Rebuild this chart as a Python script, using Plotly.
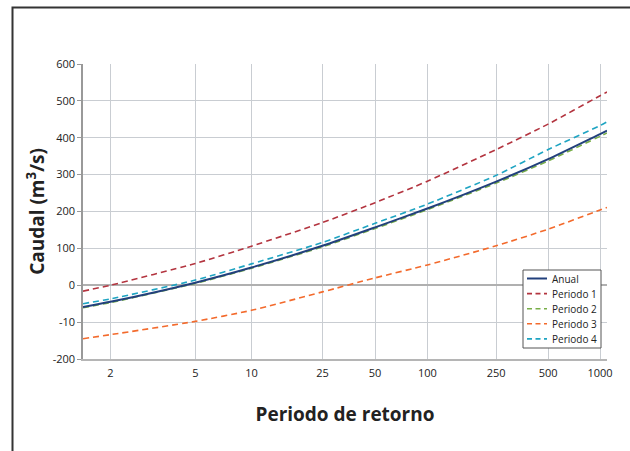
import numpy as np
import plotly.graph_objects as go

# Return periods (years) at which the quantiles are read
return_periods = [1.582, 2, 5, 10, 25, 50, 100, 250, 500, 1000, 1097]

# Discharge quantiles (m3/s)
anual    = [-59, -45, 7, 48, 107, 157, 208, 281, 342, 410, 419]
periodo1 = [-16, 0, 59, 106, 170, 224, 282, 368, 437, 514, 524]
periodo2 = [-61, -47, 5, 46, 104, 154, 205, 277, 337, 404, 413]
periodo3 = [-145, -134, -98, -68, -18, 20, 55, 107, 152, 204, 211]
periodo4 = [-50, -37, 14, 58, 116, 168, 220, 298, 368, 433, 443]

# Axis ticks
x_ticks = [2, 5, 10, 25, 50, 100, 250, 500, 1000]
y_tick_vals = [600, 500, 400, 300, 200, 100, 0, -100, -200]
y_tick_text = ["600", "500", "400", "300", "200", "100", "0", "-10", "-200"]


def gumbel(T):
    """Gumbel reduced variate for a return period T."""
    T = np.asarray(T, dtype=float)
    return -np.log(-np.log(1.0 - 1.0 / T))


u = gumbel(return_periods)

DASH = "6px,4px"
series = [
    ("Anual", anual, "#22407c", "solid", 2.0),
    ("Periodo 1", periodo1, "#b3343f", DASH, 1.6),
    ("Periodo 2", periodo2, "#78ae48", DASH, 1.6),
    ("Periodo 3", periodo3, "#f36a2c", DASH, 1.6),
    ("Periodo 4", periodo4, "#1ea4c2", DASH, 1.6),
]

fig = go.Figure()
# draw order: green under the solid line
for i in [2, 0, 1, 3, 4]:
    name, vals, color, dash, w = series[i]
    fig.add_trace(go.Scatter(
        x=u, y=vals, name=name, mode="lines", showlegend=False,
        line=dict(color=color, dash=dash, width=w,
                  shape="spline", smoothing=0.6),
    ))

font_family = "Open Sans, Noto Sans, sans-serif"

W, H = 630, 451
ML, MR, MT, MB = 83, 23, 64, 92
PW, PH = W - ML - MR, H - MT - MB


def px_x(px):
    return (px - ML) / PW


def px_y(py):
    return (H - MB - py) / PH


fig.update_layout(
    width=W, height=H,
    margin=dict(l=ML, r=MR, t=MT, b=MB),
    paper_bgcolor="white", plot_bgcolor="white",
    font=dict(family=font_family, size=11, color="#222"),
    showlegend=False,
    xaxis=dict(
        range=[0, 7],
        tickvals=list(gumbel(x_ticks)),
        ticktext=[str(t) for t in x_ticks],
        showgrid=True, gridcolor="#c9cdd2", gridwidth=1.2,
        zeroline=False,
        showline=True, linecolor="#b5b5b5", linewidth=1.5,
        ticks="outside", ticklen=3, tickcolor="rgba(0,0,0,0)",
        tickfont=dict(size=11, color="#222"),
        title=dict(text="<b>Periodo de retorno</b>",
                   font=dict(size=19, color="#222"), standoff=29),
    ),
    yaxis=dict(
        range=[-200, 600],
        tickvals=y_tick_vals, ticktext=y_tick_text,
        showgrid=True, gridcolor="#c9cdd2", gridwidth=1.2,
        zeroline=True, zerolinecolor="#b0b0b0", zerolinewidth=2,
        showline=True, linecolor="#999", linewidth=1.5,
        ticks="outside", ticklen=4, tickcolor="#999",
        tickfont=dict(size=11, color="#222"),
        title=dict(text="<b>Caudal (m<sup>3</sup>/s)</b>",
                   font=dict(size=19, color="#222"), standoff=3),
    ),
)

# outer frame
fig.add_shape(type="rect", xref="paper", yref="paper",
              x0=px_x(12.5), x1=1.2, y0=-0.4, y1=px_y(7.5),
              line=dict(color="#333", width=2), layer="below")

# legend box
fig.add_shape(type="rect", xref="paper", yref="paper",
              x0=px_x(523), x1=px_x(601), y0=px_y(348), y1=px_y(270),
              line=dict(color="#555", width=1), fillcolor="white",
              layer="above")
for k, (name, vals, color, dash, w) in enumerate(series):
    yc = 278.5 + 15.1 * k
    fig.add_shape(type="line", xref="paper", yref="paper",
                  x0=px_x(527), x1=px_x(547), y0=px_y(yc), y1=px_y(yc),
                  line=dict(color=color, width=w,
                            dash="solid" if dash == "solid" else "5px,3.5px"),
                  layer="above")
    fig.add_annotation(xref="paper", yref="paper", x=px_x(550),
                       y=px_y(yc), text=name, showarrow=False,
                       xanchor="left", yanchor="middle",
                       font=dict(size=10, color="#222"))

fig.write_html("out.html")
